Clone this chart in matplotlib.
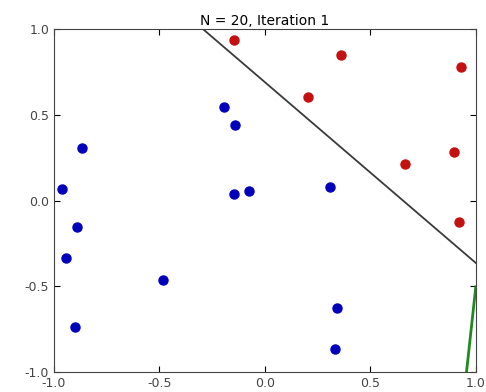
import numpy as np
import matplotlib.pyplot as plt

# points
red_x = [-0.147, 0.360, 0.929, 0.204, 0.664, 0.896, 0.919]
red_y = [0.936, 0.848, 0.778, 0.604, 0.213, 0.283, -0.125]
blue_x = [-0.193, -0.142, -0.869, -0.964, -0.145, -0.074, 0.308,
          -0.891, -0.942, -0.483, 0.344, -0.899, 0.333]
blue_y = [0.543, 0.440, 0.304, 0.065, 0.036, 0.055, 0.080,
          -0.155, -0.333, -0.465, -0.627, -0.736, -0.868]

# separating lines as (x, y) end points
target_x = [-0.294, 1.0]
target_y = [1.0, -0.364]
guess_x = [0.956, 1.0]
guess_y = [-1.0, -0.503]

ticks = [-1.0, -0.5, 0.0, 0.5, 1.0]

fig = plt.figure(figsize=(4.86, 3.92), dpi=100)
ax = fig.add_axes([0.111, 0.051, 0.868, 0.875])

ax.plot(target_x, target_y, color="#3a3a3a", lw=1.3)
ax.plot(guess_x, guess_y, color="#1f8a1f", lw=2)
ax.plot(red_x, red_y, "o", color="#c41010", ms=6.5, mec="#c41010")
ax.plot(blue_x, blue_y, "o", color="#0000bb", ms=6.5, mec="#0000bb")

ax.set_xlim(-1, 1)
ax.set_ylim(-1, 1)
ax.set_xticks(ticks)
ax.set_yticks(ticks)
ax.set_xticklabels(["%.1f" % t for t in ticks])
ax.set_yticklabels(["%.1f" % t for t in ticks])
ax.tick_params(direction="in", top=True, right=True, labelsize=9,
               labelcolor="#444444", length=4)
for s in ax.spines.values():
    s.set_color("#444444")
ax.set_title("N = 20, Iteration 1", fontsize=10, pad=3)

fig.savefig("out.png", dpi=100)
